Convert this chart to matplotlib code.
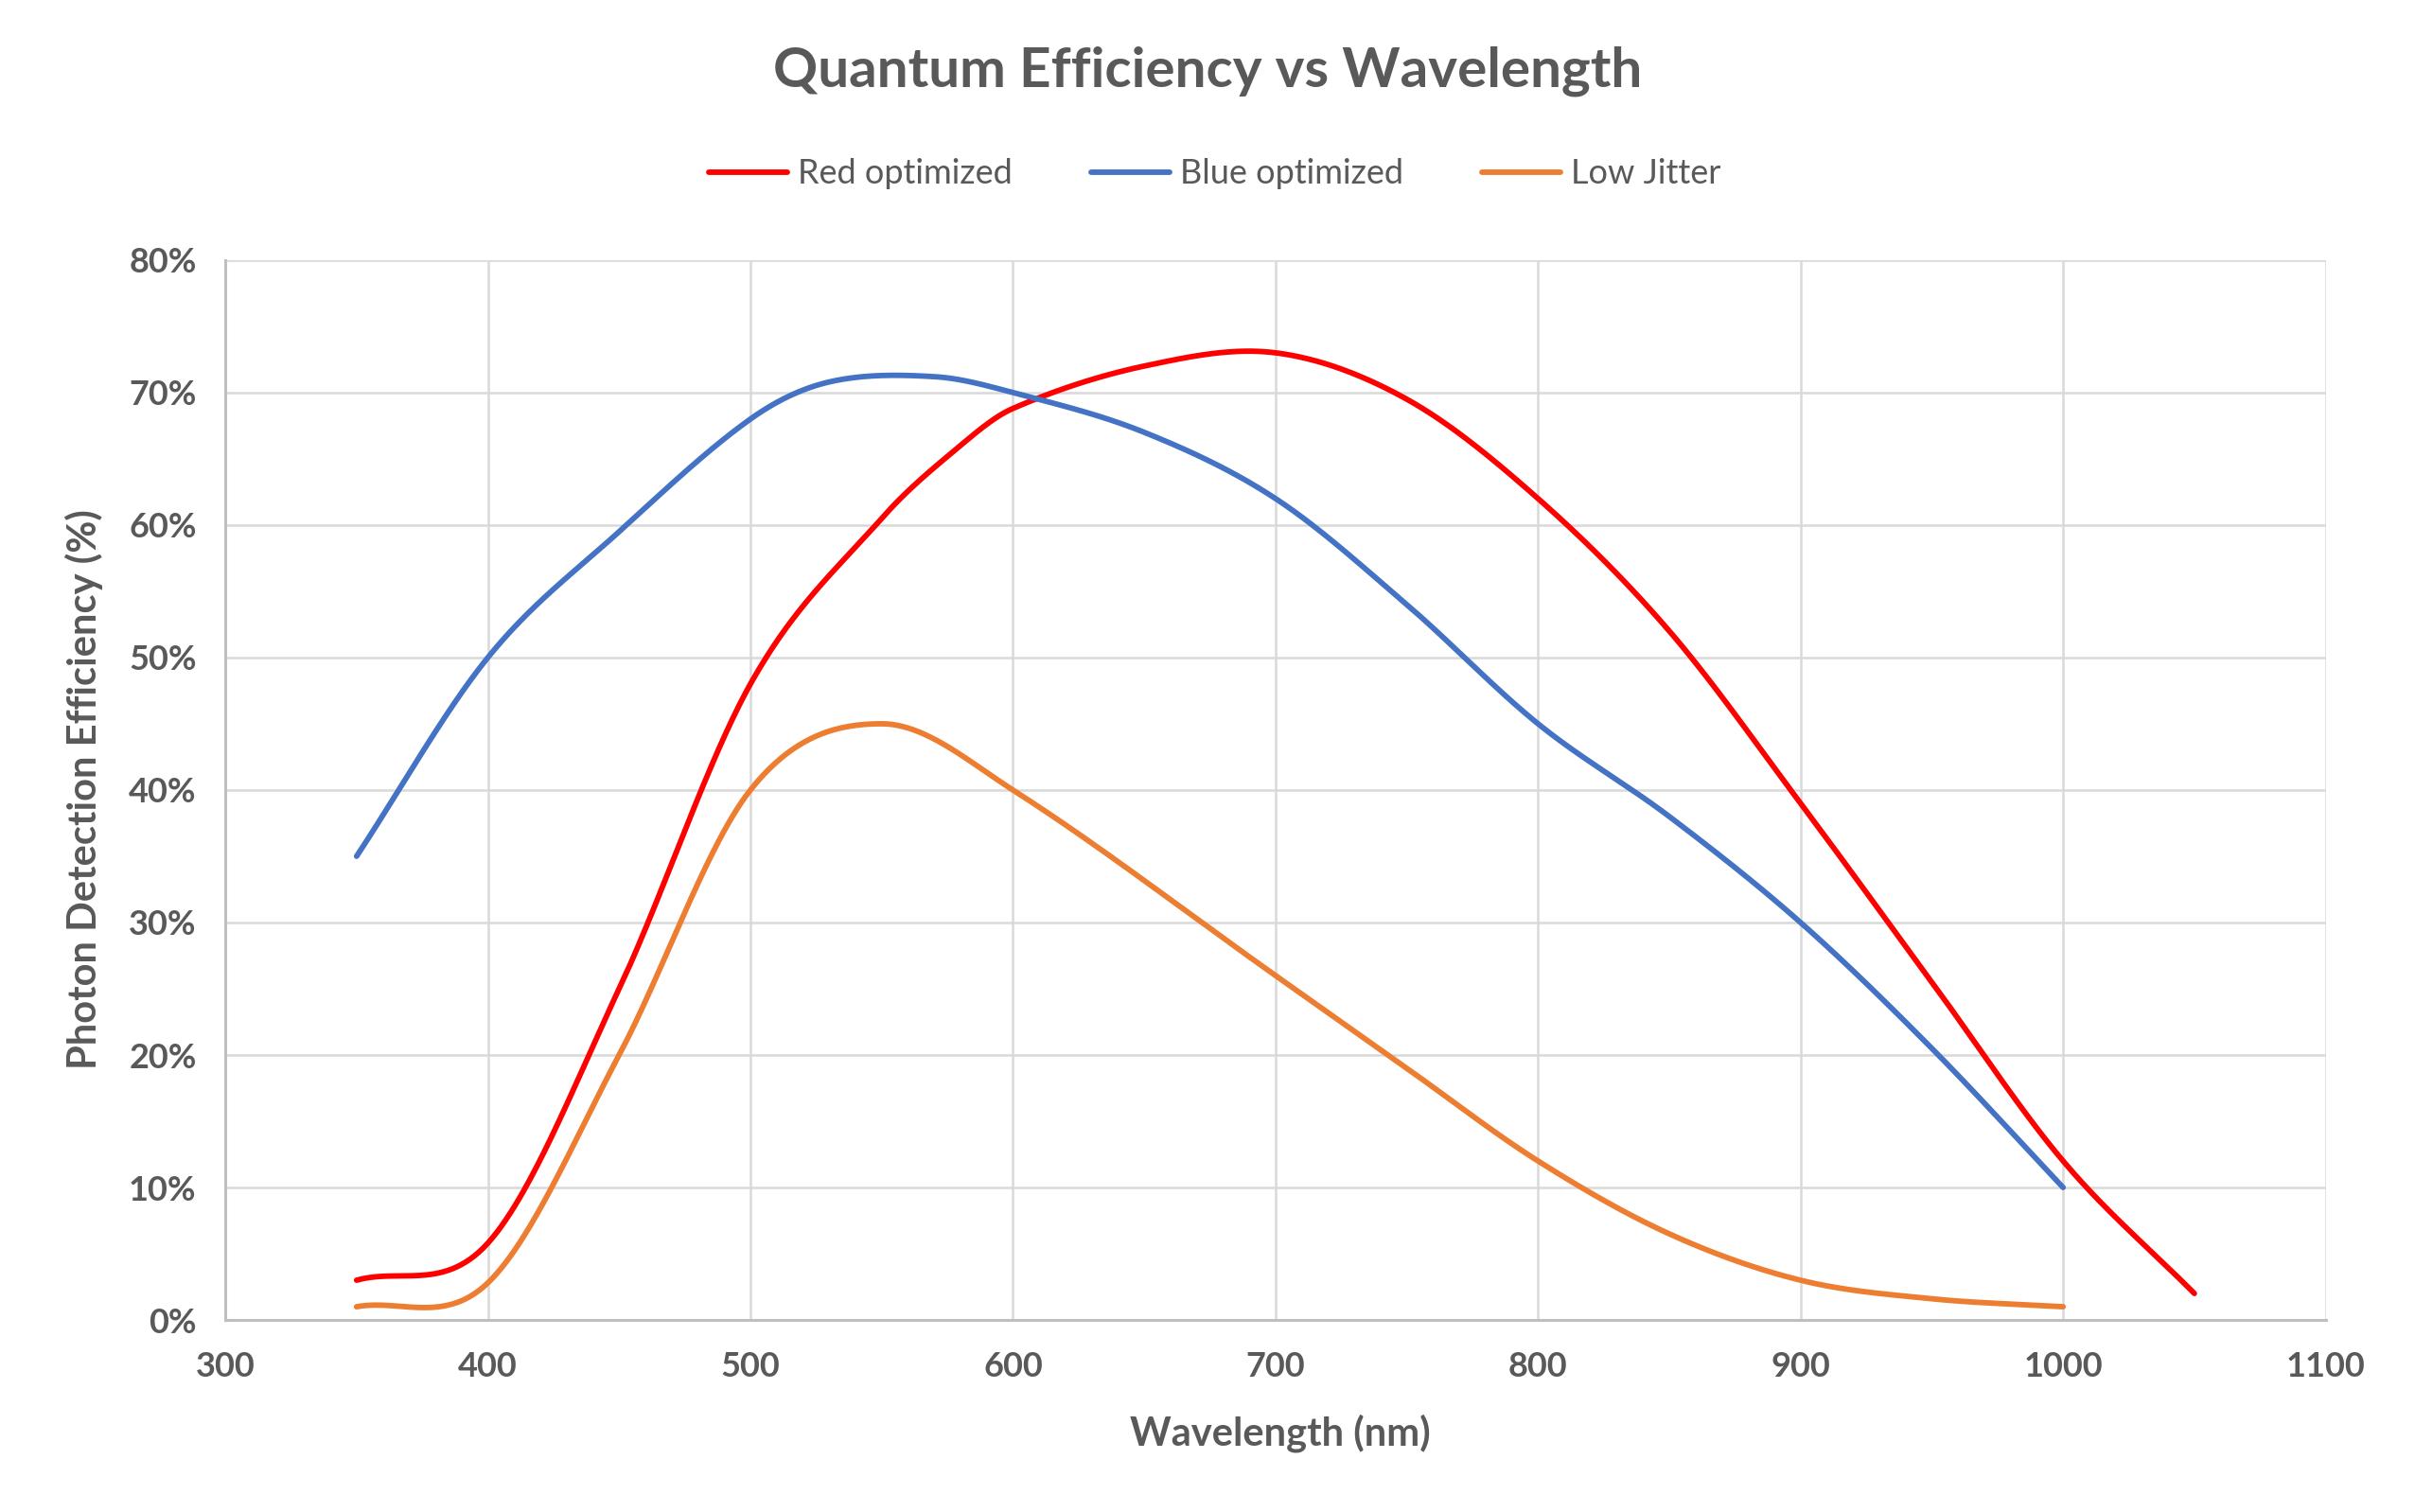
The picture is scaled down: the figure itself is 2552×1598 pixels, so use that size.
import numpy as np
import matplotlib
matplotlib.use("Agg")
from matplotlib import pyplot as plt
from matplotlib.ticker import FuncFormatter

# data (wavelength nm, efficiency %)
red_nm = [350, 400, 450, 500, 550, 580, 600, 650, 700, 750, 800, 850, 900, 950, 1000, 1050]
red_pde = [3, 5.8, 25, 48, 60.5, 66, 68.8, 72, 73, 69.5, 62, 52, 39, 25.5, 12, 2]

blue_nm = [350, 400, 450, 500, 530, 570, 600, 650, 700, 750, 800, 850, 900, 950, 1000]
blue_pde = [35, 50, 59.5, 68, 70.8, 71.2, 70, 67, 62, 54, 45, 38, 30, 20.5, 10]

jitter_nm = [350, 400, 450, 500, 550, 600, 700, 750, 800, 850, 900, 950, 1000]
jitter_pde = [1, 2.8, 20, 40, 45, 40, 26, 19, 12, 6.5, 3, 1.6, 1]

series = [
    ("Red optimized", red_nm, red_pde, "#FF0000"),
    ("Blue optimized", blue_nm, blue_pde, "#4472C4"),
    ("Low Jitter", jitter_nm, jitter_pde, "#ED7D31"),
]

TEXT = "#595959"


def smooth(xs, ys, n=60):
    # smoothed line like Excel: cubic hermite with central-difference slopes
    x = np.asarray(xs, float)
    y = np.asarray(ys, float)
    m = np.zeros_like(y)
    m[1:-1] = (y[2:] - y[:-2]) / (x[2:] - x[:-2])
    m[0] = (y[1] - y[0]) / (x[1] - x[0])
    m[-1] = (y[-1] - y[-2]) / (x[-1] - x[-2])
    sx, sy = [], []
    for i in range(len(x) - 1):
        h = x[i + 1] - x[i]
        t = np.linspace(0, 1, n)
        h00 = 2 * t ** 3 - 3 * t ** 2 + 1
        h10 = t ** 3 - 2 * t ** 2 + t
        h01 = -2 * t ** 3 + 3 * t ** 2
        h11 = t ** 3 - t ** 2
        sx.append(x[i] + t * h)
        sy.append(h00 * y[i] + h10 * h * m[i] + h01 * y[i + 1] + h11 * h * m[i + 1])
    return np.concatenate(sx), np.concatenate(sy)


plt.rcParams['font.family'] = ['Lato', 'DejaVu Sans']

fig = plt.figure(figsize=(25.52, 15.98), dpi=100)
ax = fig.add_axes([0.0933, 0.127, 0.8697, 0.701])

for name, xs, ys, color in series:
    sx, sy = smooth(xs, ys)
    ax.plot(sx, sy, color=color, lw=4.2, label=name, solid_capstyle="round")

ax.set_xlim(300, 1100)
ax.set_ylim(0, 80)
ax.set_xticks(range(300, 1101, 100))
ax.set_yticks(range(0, 81, 10))
ax.yaxis.set_major_formatter(FuncFormatter(lambda v, _: f"{v:.0f}%"))

ax.grid(True, color="#D9D9D9", lw=1.8)
ax.set_axisbelow(True)
for side in ["top", "right"]:
    ax.spines[side].set_visible(False)
for side in ["left", "bottom"]:
    ax.spines[side].set_color("#BFBFBF")
    ax.spines[side].set_linewidth(2.2)

ax.tick_params(length=0, labelsize=26, labelcolor=TEXT)
ax.tick_params(axis="y", pad=22)
ax.tick_params(axis="x", pad=24)
for lbl in ax.get_xticklabels() + ax.get_yticklabels():
    lbl.set_fontweight("bold")

fig.text(0.5, 0.953, "Quantum Efficiency vs Wavelength", ha="center", va="center",
         fontsize=42, fontweight="bold", color=TEXT)
fig.text(0.53, 0.052, "Wavelength (nm)", ha="center", va="center",
         fontsize=30, fontweight="bold", color=TEXT)
fig.text(0.035, 0.478, "Photon Detection Efficiency (%)", ha="center", va="center",
         rotation=90, fontsize=30, fontweight="bold", color=TEXT)

leg = fig.legend(loc="center", bbox_to_anchor=(0.503, 0.885), ncol=3, frameon=False,
                 fontsize=26, handlelength=2.3, columnspacing=2.3, handletextpad=0.3)
for t in leg.get_texts():
    t.set_color(TEXT)

fig.savefig("out.png", dpi=100, facecolor="white")
